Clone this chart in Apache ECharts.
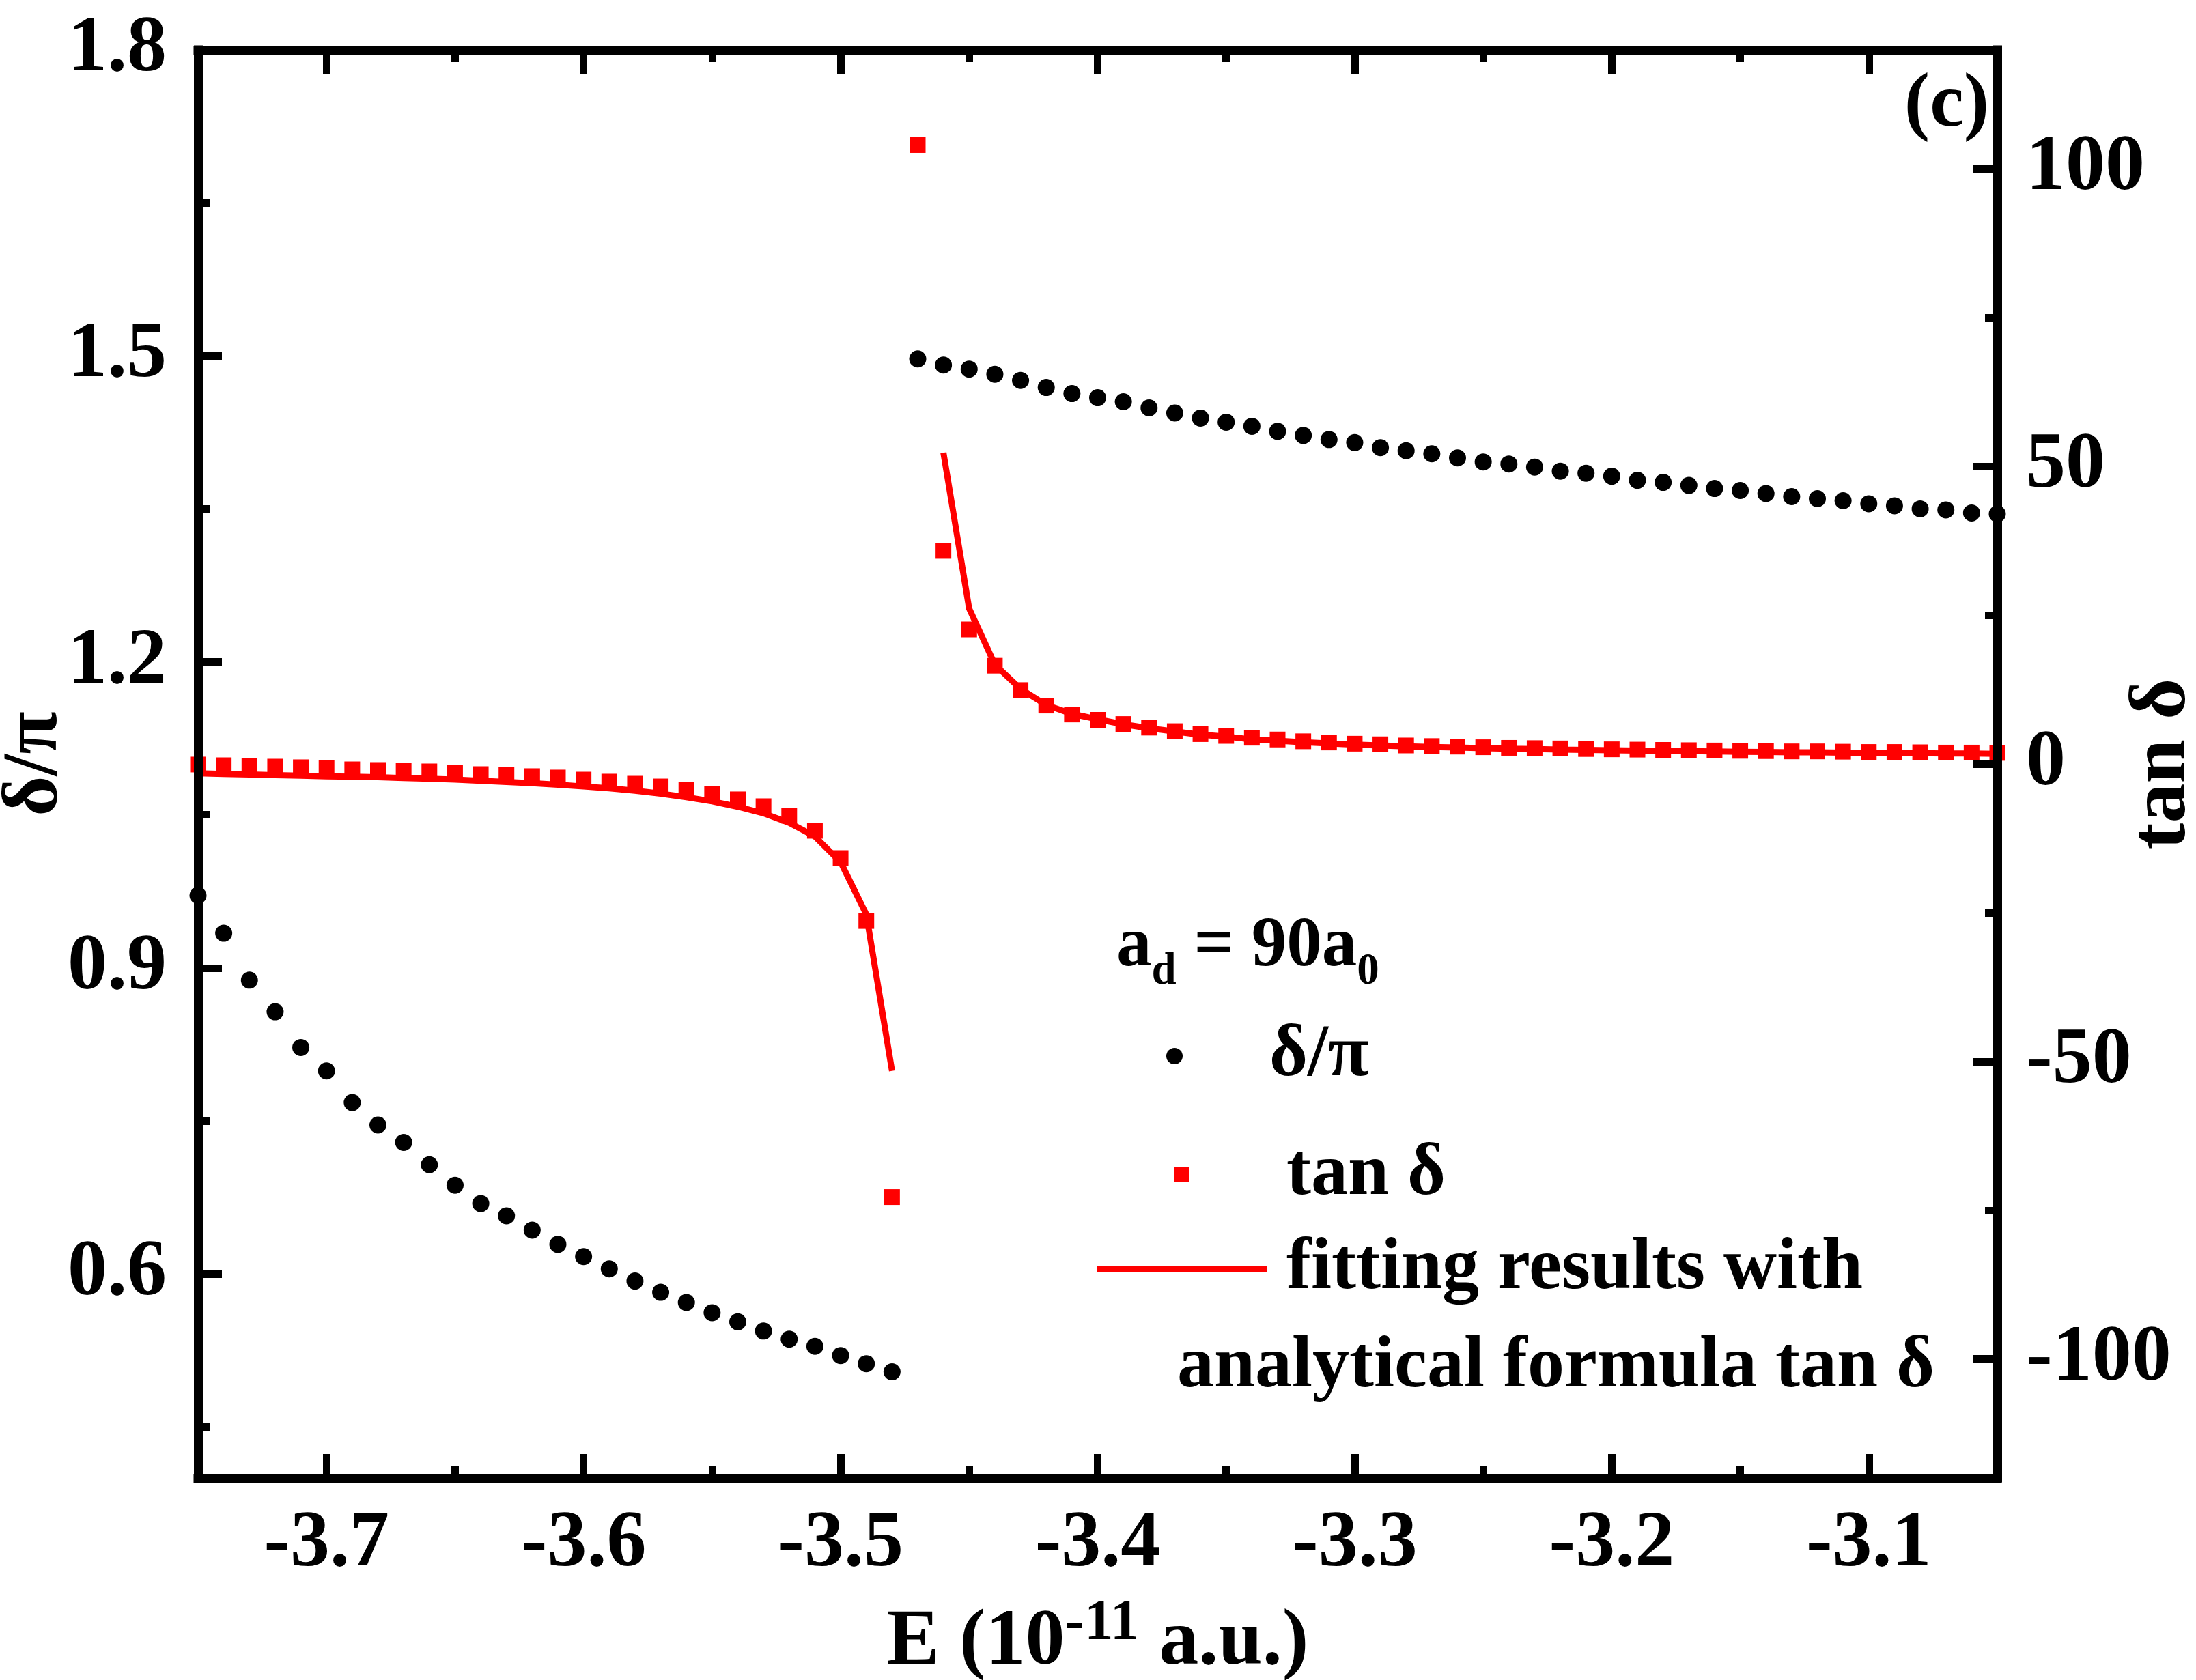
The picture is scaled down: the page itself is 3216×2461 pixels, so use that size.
<!DOCTYPE html>
<html lang="en">
<head>
<meta charset="utf-8" />
<title>delta/pi and tan delta versus E</title>
<script src="https://cdn.jsdelivr.net/npm/echarts@6/dist/echarts.min.js"></script>
<style>
  html, body { margin: 0; padding: 0; background: #fff; }
  #main { width: 3216px; height: 2461px; }
</style>
</head>
<body>
<div id="main"></div>
<script>
// energies (10^-11 a.u.), below and above the jump
var energyLeft = [-3.75, -3.74, -3.73, -3.72, -3.71, -3.70, -3.69, -3.68, -3.67, -3.66,
  -3.65, -3.64, -3.63, -3.62, -3.61, -3.60, -3.59, -3.58, -3.57, -3.56,
  -3.55, -3.54, -3.53, -3.52, -3.51, -3.50, -3.49, -3.48];
var energyRight = [-3.47, -3.46, -3.45, -3.44, -3.43, -3.42, -3.41, -3.40, -3.39, -3.38,
  -3.37, -3.36, -3.35, -3.34, -3.33, -3.32, -3.31, -3.30, -3.29, -3.28,
  -3.27, -3.26, -3.25, -3.24, -3.23, -3.22, -3.21, -3.20, -3.19, -3.18,
  -3.17, -3.16, -3.15, -3.14, -3.13, -3.12, -3.11, -3.10, -3.09, -3.08,
  -3.07, -3.06, -3.05];
// the fitted curve above the jump starts one step later
var energyFitRight = energyRight.slice(1);

// delta/pi (left axis)
var phaseLeft = [0.971, 0.934, 0.888, 0.857, 0.822, 0.799, 0.768, 0.746, 0.729, 0.707,
  0.687, 0.669, 0.657, 0.643, 0.629, 0.617, 0.605, 0.593, 0.582, 0.572,
  0.562, 0.553, 0.544, 0.536, 0.529, 0.520, 0.512, 0.504];
var phaseRight = [1.497, 1.491, 1.487, 1.482, 1.476, 1.469, 1.463, 1.459, 1.455, 1.449,
  1.444, 1.439, 1.435, 1.431, 1.426, 1.422, 1.418, 1.415, 1.410, 1.407,
  1.404, 1.400, 1.396, 1.394, 1.391, 1.387, 1.385, 1.382, 1.378, 1.376,
  1.373, 1.370, 1.368, 1.365, 1.362, 1.360, 1.358, 1.355, 1.353, 1.350,
  1.349, 1.346, 1.345];

// tan delta (right axis)
var tanLeft = [-0.11, -0.23, -0.34, -0.46, -0.57, -0.69, -0.92, -1.03, -1.15, -1.26,
  -1.49, -1.72, -1.83, -2.06, -2.29, -2.64, -2.98, -3.33, -3.79, -4.36,
  -5.05, -5.96, -7.11, -8.72, -11.24, -15.83, -26.4, -72.8];
var tanRight = [104, 35.8, 22.6, 16.5, 12.4, 9.8, 8.3, 7.4, 6.7, 6.1,
  5.5, 5.0, 4.7, 4.4, 4.1, 3.8, 3.6, 3.4, 3.3, 3.1,
  3.0, 2.9, 2.8, 2.7, 2.65, 2.6, 2.5, 2.45, 2.4, 2.35,
  2.3, 2.25, 2.2, 2.15, 2.1, 2.1, 2.05, 2.0, 2.0, 1.95,
  1.9, 1.9, 1.85];

// fitting results with the analytical formula
var fitLeft = [-1.57, -1.68, -1.78, -1.88, -1.98, -2.08, -2.15, -2.25, -2.37, -2.5,
  -2.65, -2.85, -3.05, -3.25, -3.5, -3.8, -4.1, -4.5, -5.0, -5.6,
  -6.3, -7.2, -8.3, -9.9, -12.2, -16.5, -25.3, -51.6];
var fitRight = [52.3, 26.1, 16.7, 12.6, 9.9, 8.4, 7.5, 6.65, 6.0, 5.45,
  4.9, 4.6, 4.1, 3.9, 3.65, 3.45, 3.25, 3.1, 2.95, 2.85,
  2.75, 2.65, 2.55, 2.5, 2.4, 2.35, 2.3, 2.25, 2.2, 2.15,
  2.1, 2.05, 2.0, 1.95, 1.95, 1.9, 1.85, 1.85, 1.8, 1.75,
  1.75, 1.7];

// tick positions
var xMajor = [-3.7, -3.6, -3.5, -3.4, -3.3, -3.2, -3.1];
var xMinor = [-3.65, -3.55, -3.45, -3.35, -3.25, -3.15];
var phaseMajor = [0.6, 0.9, 1.2, 1.5, 1.8];
var phaseMinor = [0.45, 0.75, 1.05, 1.35, 1.65];
var tanMajor = [-100, -50, 0, 50, 100];
var tanMinor = [-75, -25, 25, 75];

var FONT = "'Liberation Serif', 'Times New Roman', serif";

function pairs(xs, ys) {
  return xs.map(function (x, i) { return [x, ys[i]]; });
}

// one side of the frame: axis line plus inward ticks
function frameAxis(position, min, max, ticks, len, withLine) {
  return {
    type: 'value',
    position: position,
    min: min,
    max: max,
    z: 10,
    nameMoveOverlap: false,
    splitLine: { show: false },
    axisLine: { show: withLine, onZero: false, lineStyle: { color: '#000', width: 13, cap: 'square' } },
    axisTick: { show: true, inside: true, length: len, customValues: ticks, lineStyle: { color: '#000', width: 11 } },
    axisLabel: { show: false }
  };
}

function withLabels(axis, values, margin, fmt) {
  axis.axisLabel = {
    show: true,
    customValues: values,
    margin: margin,
    color: '#000',
    fontFamily: FONT,
    fontWeight: 'bold',
    fontSize: 116,
    formatter: fmt
  };
  return axis;
}

var oneDecimal = function (v) { return (+v).toFixed(1); };
var integer = function (v) { return String(Math.round(v)); };

var xBottom = withLabels(frameAxis('bottom', -3.75, -3.05, xMajor, 35, true), xMajor, 40, oneDecimal);
xBottom.name = '{m|E (10}{s|-11}{m| a.u.)}';
xBottom.nameLocation = 'middle';
xBottom.nameGap = 172;
xBottom.nameTextStyle = {
  rich: {
    m: { fontFamily: FONT, fontWeight: 'bold', fontSize: 116, color: '#000', lineHeight: 140 },
    s: { fontFamily: FONT, fontWeight: 'bold', fontSize: 85, color: '#000', lineHeight: 81, verticalAlign: 'top' }
  }
};

var yLeft = withLabels(frameAxis('left', 0.4, 1.8, phaseMajor, 35, true), phaseMajor, 46, oneDecimal);
yLeft.name = 'δ/π';
yLeft.nameLocation = 'middle';
yLeft.nameRotate = 90;
yLeft.nameGap = 180;
yLeft.nameTextStyle = { fontFamily: FONT, fontWeight: 'bold', fontSize: 114, color: '#000' };

var yRight = withLabels(frameAxis('right', -120, 120, tanMajor, 35, true), tanMajor, 42, integer);
yRight.name = 'tan δ';
yRight.nameLocation = 'middle';
yRight.nameRotate = 90;
yRight.nameGap = 186;
yRight.nameTextStyle = { fontFamily: FONT, fontWeight: 'bold', fontSize: 116, color: '#000' };

function legendAt(name, icon, left, centerY, w, h, pad) {
  return {
    data: [{ name: name, icon: icon }],
    orient: 'horizontal',
    left: left,
    top: centerY - 50,
    itemWidth: w,
    itemHeight: h,
    itemGap: 0,
    padding: 0,
    selectedMode: false,
    textStyle: { fontFamily: FONT, fontWeight: 'bold', fontSize: 108, color: '#000', lineHeight: 100, padding: [0, 0, 0, pad] }
  };
}

var option = {
  animation: false,
  backgroundColor: '#fff',
  grid: { left: 290, right: 291, top: 73, bottom: 296, containLabel: false, outerBoundsMode: 'none' },
  xAxis: [
    xBottom,
    frameAxis('bottom', -3.75, -3.05, xMinor, 18, false),
    frameAxis('top', -3.75, -3.05, xMajor, 35, true),
    frameAxis('top', -3.75, -3.05, xMinor, 18, false)
  ],
  yAxis: [
    yLeft,
    yRight,
    frameAxis('left', 0.4, 1.8, phaseMinor, 18, false),
    frameAxis('right', -120, 120, tanMinor, 18, false)
  ],
  legend: [
    legendAt('δ/π', 'circle', 1708, 1543, 24, 24, 122),
    legendAt('tan δ', 'rect', 1720, 1717, 22, 22, 137),
    legendAt('fitting results with', 'rect', 1606, 1855, 250, 9, 23)
  ],
  graphic: [
    {
      type: 'text',
      z: 20,
      style: {
        x: 1635, y: 1317,
        text: '{m|a}{s|d}{m| = 90a}{s|0}',
        align: 'left', verticalAlign: 'top',
        rich: {
          m: { fontFamily: FONT, fontWeight: 'bold', fontSize: 103, fill: '#000', lineHeight: 140 },
          s: { fontFamily: FONT, fontWeight: 'bold', fontSize: 65, fill: '#000', lineHeight: 58, verticalAlign: 'bottom' }
        }
      }
    },
    {
      type: 'text',
      z: 20,
      style: {
        x: 1724, y: 2003,
        text: 'analytical formula tan δ',
        align: 'left', verticalAlign: 'middle',
        font: 'bold 108px ' + FONT,
        fill: '#000'
      }
    },
    {
      type: 'text',
      z: 20,
      style: {
        x: 2851, y: 155,
        text: '(c)',
        align: 'center', verticalAlign: 'middle',
        font: 'bold 112px ' + FONT,
        fill: '#000'
      }
    }
  ],
  series: [
    {
      name: 'δ/π',
      type: 'scatter',
      xAxisIndex: 0,
      yAxisIndex: 0,
      symbol: 'circle',
      symbolSize: 25,
      itemStyle: { color: '#000', opacity: 1 },
      emphasis: { disabled: true },
      data: pairs(energyLeft, phaseLeft).concat(pairs(energyRight, phaseRight))
    },
    {
      name: 'tan δ',
      type: 'scatter',
      xAxisIndex: 0,
      yAxisIndex: 1,
      symbol: 'rect',
      symbolSize: 23,
      itemStyle: { color: '#ff0000', opacity: 1 },
      emphasis: { disabled: true },
      data: pairs(energyLeft, tanLeft).concat(pairs(energyRight, tanRight))
    },
    {
      name: 'fitting results with',
      type: 'line',
      xAxisIndex: 0,
      yAxisIndex: 1,
      symbol: 'none',
      lineStyle: { color: '#ff0000', width: 9 },
      itemStyle: { color: '#ff0000' },
      emphasis: { disabled: true },
      data: pairs(energyLeft, fitLeft)
    },
    {
      name: 'fitting results with',
      type: 'line',
      xAxisIndex: 0,
      yAxisIndex: 1,
      symbol: 'none',
      lineStyle: { color: '#ff0000', width: 9 },
      itemStyle: { color: '#ff0000' },
      emphasis: { disabled: true },
      data: pairs(energyFitRight, fitRight)
    }
  ]
};

var chart = echarts.init(document.getElementById('main'));
function draw() { chart.setOption(option, true); }
draw();
// redraw once the serif face is surely available
if (document.fonts) {
  document.fonts.load('bold 116px "Liberation Serif"').then(draw);
  document.fonts.ready.then(draw);
}
window.onresize = chart.resize;
</script>
</body>
</html>
